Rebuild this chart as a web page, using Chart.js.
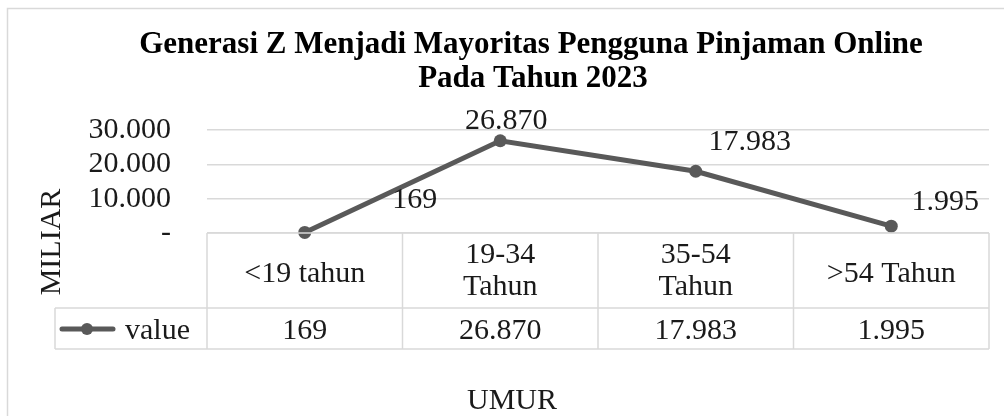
<!DOCTYPE html>
<html>
<head>
<meta charset="utf-8">
<script src="https://cdn.jsdelivr.net/npm/chart.js@4.4.1/dist/chart.umd.min.js"></script>
<style>
  html, body { margin: 0; padding: 0; background: #ffffff; }
  #wrap { width: 1004px; height: 416px; }
</style>
</head>
<body>
<div id="wrap"><canvas id="c" width="1004" height="416"></canvas></div>
<script>
// ---- data ----
const titleLines = ['Generasi Z Menjadi Mayoritas Pengguna Pinjaman Online', 'Pada Tahun 2023'];
const categories = [['<19 tahun'], ['19-34', 'Tahun'], ['35-54', 'Tahun'], ['>54 Tahun']];
const seriesName = 'value';
const values = [169, 26870, 17983, 1995];
const yTicks = [0, 10000, 20000, 30000];
const yAxisTitle = 'MILIAR';
const xAxisTitle = 'UMUR';

// ---- style ----
const FONT = '"Liberation Serif", "Times New Roman", serif';
const LINE_COLOR = '#595959';
const GRID_COLOR = '#d9d9d9';
const TEXT_COLOR = '#1a1a1a';
const FS = 30;
const labelOffsets = [[110, -32], [6, -20], [54, -29], [54, -24]];

function fmt(v) {
  if (v === 0) return '-';
  return String(v).replace(/\B(?=(\d{3})+(?!\d))/g, '.');
}

const decor = {
  id: 'excelDecor',
  beforeDraw(chart) {
    const ctx = chart.ctx;
    ctx.save();
    ctx.fillStyle = '#ffffff';
    ctx.fillRect(0, 0, chart.width, chart.height);
    ctx.strokeStyle = GRID_COLOR;
    ctx.lineWidth = 1.5;
    ctx.strokeRect(7.5, 8.5, chart.width + 10, chart.height + 10);
    ctx.restore();
  },
  afterDraw(chart) {
    const ctx = chart.ctx;
    const area = chart.chartArea;
    const xs = chart.scales.x;
    ctx.save();
    // Title
    ctx.fillStyle = '#000000';
    ctx.font = 'bold 31px ' + FONT;
    ctx.textAlign = 'center';
    ctx.textBaseline = 'alphabetic';
    ctx.fillText(titleLines[0], 531, 53);
    ctx.fillText(titleLines[1], 533, 87);

    // Y axis title
    ctx.font = FS + 'px ' + FONT;
    ctx.fillStyle = TEXT_COLOR;
    ctx.save();
    ctx.translate(60, 242);
    ctx.rotate(-Math.PI / 2);
    ctx.textAlign = 'center';
    ctx.textBaseline = 'alphabetic';
    ctx.fillText(yAxisTitle, 0, 0);
    ctx.restore();

    // X axis title
    ctx.textAlign = 'center';
    ctx.fillText(xAxisTitle, 512, 409);

    // Data table
    const n = categories.length;
    const colW = (area.right - area.left) / n;
    const top = area.bottom;
    const rowMid = top + 75;
    const bottom = rowMid + 41;
    const legLeft = 55;
    ctx.strokeStyle = GRID_COLOR;
    ctx.lineWidth = 1.5;
    ctx.beginPath();
    ctx.moveTo(area.left, top); ctx.lineTo(area.right, top);
    ctx.moveTo(legLeft, rowMid); ctx.lineTo(area.right, rowMid);
    ctx.moveTo(legLeft, bottom); ctx.lineTo(area.right, bottom);
    ctx.moveTo(legLeft, rowMid); ctx.lineTo(legLeft, bottom);
    for (let i = 0; i <= n; i++) {
      const x = area.left + i * colW;
      ctx.moveTo(x, top); ctx.lineTo(x, bottom);
    }
    ctx.stroke();

    ctx.fillStyle = TEXT_COLOR;
    ctx.font = FS + 'px ' + FONT;
    ctx.textAlign = 'center';
    ctx.textBaseline = 'alphabetic';
    for (let i = 0; i < n; i++) {
      const cx = xs.getPixelForValue(i);
      const lines = categories[i];
      const first = lines.length === 1 ? top + 49 : top + 30;
      lines.forEach((t, k) => ctx.fillText(t, cx, first + k * 32));
      ctx.fillText(fmt(values[i]), cx, rowMid + 31);
    }

    // Legend key
    ctx.strokeStyle = LINE_COLOR;
    ctx.lineWidth = 5;
    ctx.lineCap = 'round';
    ctx.beginPath();
    ctx.moveTo(62, rowMid + 21); ctx.lineTo(113, rowMid + 21);
    ctx.stroke();
    ctx.fillStyle = LINE_COLOR;
    ctx.beginPath();
    ctx.arc(87, rowMid + 21, 6, 0, Math.PI * 2);
    ctx.fill();
    ctx.fillStyle = TEXT_COLOR;
    ctx.textAlign = 'left';
    ctx.fillText(seriesName, 125, rowMid + 31);

    ctx.restore();
  },
  afterDatasetsDraw(chart) {
    const ctx = chart.ctx;
    const meta = chart.getDatasetMeta(0);
    ctx.save();
    ctx.fillStyle = TEXT_COLOR;
    ctx.font = FS + 'px ' + FONT;
    ctx.textAlign = 'center';
    ctx.textBaseline = 'middle';
    meta.data.forEach((pt, i) => {
      const off = labelOffsets[i];
      ctx.fillText(fmt(values[i]), pt.x + off[0], pt.y + off[1]);
    });
    ctx.restore();
  }
};

new Chart(document.getElementById('c'), {
  type: 'line',
  data: {
    labels: categories,
    datasets: [{
      label: seriesName,
      data: values,
      borderColor: LINE_COLOR,
      backgroundColor: LINE_COLOR,
      borderWidth: 5,
      pointRadius: 6.5,
      pointHoverRadius: 6.5,
      pointBackgroundColor: LINE_COLOR,
      pointBorderWidth: 0,
      tension: 0,
      clip: false
    }]
  },
  options: {
    responsive: false,
    animation: false,
    devicePixelRatio: 1,
    layout: { padding: { left: 0, right: 15, top: 130, bottom: 183 } },
    plugins: {
      legend: { display: false },
      title: { display: false },
      tooltip: { enabled: false }
    },
    scales: {
      x: {
        type: 'category',
        display: false,
        offset: true
      },
      y: {
        min: 0,
        max: 30000,
        afterFit(scale) { scale.width = 207; },
        afterBuildTicks(scale) { scale.ticks = yTicks.map(v => ({ value: v })); },
        border: { display: false },
        grid: { color: GRID_COLOR, lineWidth: 1.5, drawTicks: false },
        ticks: {
          autoSkip: false,
          padding: 36,
          color: TEXT_COLOR,
          font: { family: FONT, size: FS },
          callback: v => fmt(v)
        }
      }
    }
  },
  plugins: [decor]
});
</script>
</body>
</html>
